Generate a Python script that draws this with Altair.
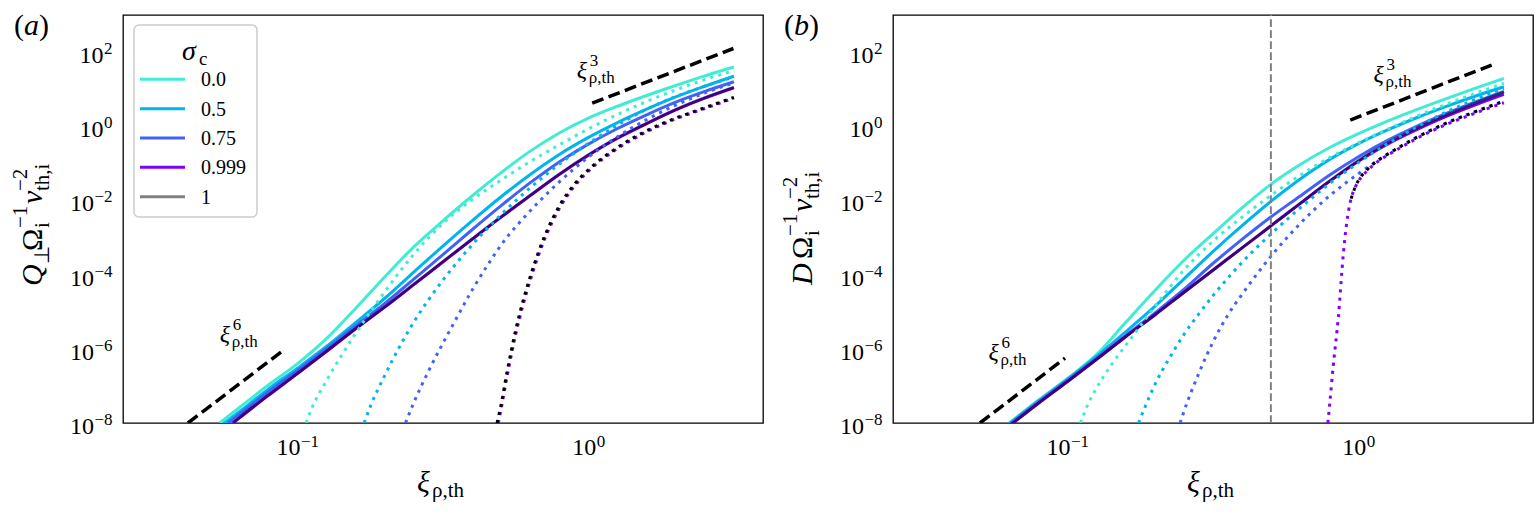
import altair as alt
import numpy as np
import pandas as pd

FONT = "Liberation Serif"

SIGMAS = ["0.0", "0.5", "0.75", "0.999", "1"]
SIGMA_COLORS = ["#40ecd4", "#00b4ec", "#4062fa", "#7f00ff", "#808080"]

XI_DOMAIN = [0.02512, 3.981]
Y_DOMAIN = [1e-8, 1e3]
W, H = 640, 408

XI_GRID = [0.063, 0.079, 0.1, 0.126, 0.158, 0.2, 0.251, 0.316, 0.398, 0.501,
           0.631, 0.794, 1.0, 1.259, 1.585, 1.995, 2.512, 3.162]

# ---------------- panel (a): heating rate, values as log10 ----------------
qa_xi_s0 = [0.054] + XI_GRID
qa_lg_s0 = [-8.0, -7.59, -6.99, -6.4, -5.72, -4.92, -4.05, -3.25, -2.55, -1.88,
            -1.25, -0.67, -0.18, 0.22, 0.54, 0.83, 1.1, 1.36, 1.6]
qa_xi_s05 = [0.0562] + XI_GRID
qa_lg_s05 = [-8.0, -7.7, -7.1, -6.52, -5.93, -5.3, -4.63, -3.93, -3.23, -2.55,
             -1.9, -1.3, -0.76, -0.3, 0.1, 0.46, 0.79, 1.08, 1.35]
qa_xi_s075 = [0.0578] + XI_GRID
qa_lg_s075 = [-8.0, -7.77, -7.17, -6.58, -5.99, -5.39, -4.77, -4.12, -3.46, -2.79,
              -2.14, -1.52, -0.96, -0.48, -0.06, 0.31, 0.65, 0.94, 1.2]
qa_xi_s0999 = [0.06] + XI_GRID
qa_lg_s0999 = [-8.0, -7.87, -7.27, -6.67, -6.07, -5.47, -4.87, -4.27, -3.66, -3.05,
               -2.45, -1.87, -1.3, -0.78, -0.32, 0.07, 0.44, 0.76, 1.04]
qa_xi_s1 = [0.06] + XI_GRID
qa_lg_s1 = [-8.0, -7.86, -7.26, -6.66, -6.06, -5.46, -4.86, -4.26, -3.65, -3.04,
            -2.44, -1.86, -1.29, -0.77, -0.31, 0.08, 0.45, 0.77, 1.05]

qa_xi_d0 = [0.107, 0.112, 0.126, 0.158, 0.2, 0.251, 0.316, 0.398, 0.501, 0.631,
            0.794, 1.0, 1.259, 1.585, 1.995, 2.512, 3.162]
qa_lg_d0 = [-8.0, -7.6, -6.85, -5.6, -4.45, -3.45, -2.62, -1.98, -1.45, -0.95,
            -0.5, -0.07, 0.32, 0.67, 0.98, 1.26, 1.5]
qa_xi_d05 = [0.1694, 0.178, 0.2, 0.224, 0.251, 0.316, 0.398, 0.501, 0.631, 0.794,
             1.0, 1.259, 1.585, 1.995, 2.512, 3.162]
qa_lg_d05 = [-8.0, -7.55, -6.7, -5.95, -5.28, -4.15, -3.2, -2.38, -1.66, -1.02,
             -0.46, 0.03, 0.46, 0.8, 1.08, 1.33]
qa_xi_d075 = [0.235, 0.251, 0.282, 0.316, 0.355, 0.398, 0.447, 0.501, 0.631, 0.794,
              1.0, 1.259, 1.585, 1.995, 2.512, 3.162]
qa_lg_d075 = [-8.0, -7.45, -6.6, -5.85, -5.12, -4.42, -3.78, -3.2, -2.28, -1.5,
              -0.83, -0.28, 0.18, 0.57, 0.9, 1.17]
qa_xi_d0999 = [0.49, 0.501, 0.525, 0.562, 0.631, 0.708, 0.794, 0.891, 1.0, 1.259,
               1.585, 1.995, 2.512, 3.162]
qa_lg_d0999 = [-8.0, -7.62, -6.75, -5.62, -4.15, -3.03, -2.22, -1.63, -1.21, -0.6,
               -0.15, 0.2, 0.48, 0.76]
qa_xi_d1 = [0.485, 0.501, 0.525, 0.562, 0.631, 0.708, 0.794, 0.891, 1.0, 1.259,
            1.585, 1.995, 2.512, 3.162]
qa_lg_d1 = [-8.0, -7.5, -6.62, -5.5, -4.05, -2.95, -2.15, -1.58, -1.17, -0.57,
            -0.12, 0.22, 0.5, 0.78]

# ---------------- panel (b): diffusion coefficient, values as log10 ----------------
db_xi_s = XI_GRID
db_lg_s0 = [-8.0, -7.4, -6.8, -6.15, -5.3, -4.42, -3.62, -2.9, -2.2, -1.56,
            -1.03, -0.58, -0.2, 0.14, 0.45, 0.74, 1.02, 1.29]
db_lg_s05 = [-8.02, -7.42, -6.82, -6.2, -5.55, -4.85, -4.12, -3.38, -2.68, -2.02,
             -1.42, -0.9, -0.47, -0.1, 0.23, 0.53, 0.81, 1.066]
db_lg_s075 = [-8.05, -7.45, -6.85, -6.25, -5.65, -5.03, -4.4, -3.7, -3.05, -2.44,
              -1.88, -1.32, -0.82, -0.38, 0.0, 0.34, 0.65, 0.94]
db_lg_s0999 = [-8.08, -7.48, -6.88, -6.28, -5.68, -5.08, -4.48, -3.88, -3.28, -2.68,
               -2.08, -1.49, -0.94, -0.48, -0.09, 0.26, 0.57, 0.86]
db_lg_s1 = [-8.08, -7.48, -6.88, -6.28, -5.68, -5.08, -4.48, -3.88, -3.28, -2.68,
            -2.08, -1.48, -0.92, -0.45, -0.05, 0.3, 0.62, 0.92]

db_xi_d0 = [0.1107, 0.1175, 0.126, 0.141, 0.158, 0.178, 0.2, 0.251, 0.316, 0.398,
            0.501, 0.631, 0.794, 1.0, 1.259, 1.585, 1.995, 2.512, 3.162]
db_lg_d0 = [-8.0, -7.5, -7.05, -6.45, -5.92, -5.38, -4.85, -3.88, -3.1, -2.45,
            -1.86, -1.32, -0.85, -0.45, -0.08, 0.27, 0.59, 0.88, 1.157]
db_xi_d05 = [0.1754, 0.1862, 0.2, 0.224, 0.251, 0.282, 0.316, 0.355, 0.398, 0.501,
             0.631, 0.794, 1.0, 1.259, 1.585, 1.995, 2.512, 3.162]
db_lg_d05 = [-8.0, -7.5, -6.95, -6.25, -5.62, -5.07, -4.57, -4.1, -3.67, -2.9,
             -2.2, -1.55, -0.98, -0.47, -0.02, 0.38, 0.72, 1.02]
db_xi_d075 = [0.2438, 0.251, 0.282, 0.316, 0.355, 0.398, 0.501, 0.631, 0.794, 1.0,
              1.259, 1.585, 1.995, 2.512, 3.162]
db_lg_d075 = [-8.0, -7.7, -6.68, -5.82, -5.1, -4.53, -3.5, -2.62, -1.88, -1.28,
              -0.76, -0.3, 0.07, 0.39, 0.67]
db_xi_d0999 = [0.785, 0.794, 0.82, 0.853, 0.887, 0.912, 0.938, 0.977, 1.0, 1.072,
               1.175, 1.259, 1.413, 1.585, 1.995, 2.512, 3.162]
db_lg_d0999 = [-8.0, -7.6, -6.42, -5.14, -3.45, -2.58, -2.03, -1.63, -1.48, -1.2,
               -0.93, -0.78, -0.55, -0.33, 0.04, 0.35, 0.634]
db_xi_d1 = [0.944, 0.977, 1.0, 1.072, 1.175, 1.259, 1.413, 1.585, 1.995, 2.512, 3.162]
db_lg_d1 = [-1.95, -1.62, -1.46, -1.17, -0.9, -0.75, -0.52, -0.3, 0.08, 0.39, 0.68]

# power-law guide segments and their labels
qa_guides = [([0.042, 0.09], [1e-8, 9.5e-7]), ([1.03, 3.15], [4.2, 125.0])]
db_guides = [([0.05, 0.098], [1e-8, 5.6e-7]), ([0.937, 2.87], [1.47, 44.8])]
qa_notes = [(0.054, 1.5e-6, "6"), (0.912, 20.0, "3")]
db_notes = [(0.0535, 4.9e-7, "6"), (1.126, 15.6, "3")]

D_THRESHOLD = 0.5

X_MAJOR = [0.1, 1.0]
X_MINOR = [0.03, 0.04, 0.05, 0.06, 0.07, 0.08, 0.09, 0.2, 0.3, 0.4, 0.5, 0.6,
           0.7, 0.8, 0.9, 2.0, 3.0]
Y_MAJOR_EXP = [2, 0, -2, -4, -6, -8]

# ---------------------------------------------------------------------------
xscale = alt.Scale(type="log", domain=XI_DOMAIN, nice=False)
yscale = alt.Scale(type="log", domain=Y_DOMAIN, nice=False)
cscale = alt.Scale(domain=SIGMAS, range=SIGMA_COLORS)
ONE = pd.DataFrame({"k": [0]})


def X(axis=None):
    return alt.X("xi:Q", scale=xscale, axis=axis)


def Y(axis=None):
    return alt.Y("val:Q", scale=yscale, axis=axis)


def C():
    return alt.Color("sigma:N", scale=cscale, legend=None)


def frame(pairs):
    parts = []
    for (xs, lg), sig in pairs:
        parts.append(pd.DataFrame({"xi": xs, "val": np.power(10.0, lg), "sigma": sig}))
    return pd.concat(parts, ignore_index=True)


def sup_text(e):
    return ("\u2212%d" % abs(e)) if e < 0 else "%d" % e


def text_piece(text, x, y, size, italic=False, angle=0, dx=0, dy=0, align="left"):
    kw = dict(text=text, align=align, baseline="alphabetic", font=FONT,
              fontSize=size, fontStyle="italic" if italic else "normal",
              color="black", dx=dx, dy=dy)
    if angle:
        kw["angle"] = angle
    return alt.Chart(ONE).mark_text(**kw).encode(x=alt.value(x), y=alt.value(y))


def panel(solids, dots, guides, notes, ytitle, tag, vline=None, legend=False):
    x_axis = alt.Axis(values=X_MAJOR + X_MINOR, labels=False, title=None, domain=False,
                      grid=False, tickColor="black", tickWidth=1.5,
                      tickSize={"condition": {"test": "datum.value == 0.1 || datum.value == 1",
                                              "value": 7}, "value": 4})
    y_axis = alt.Axis(values=[10.0 ** e for e in Y_MAJOR_EXP], labels=False, title=None,
                      domain=False, grid=False, tickColor="black", tickWidth=1.5, tickSize=7)

    line_kw = dict(strokeWidth=3, interpolate="monotone", clip=True)
    dot_kw = dict(strokeDash=[3.1, 5.1], strokeCap="butt", **line_kw)
    layers = [
        alt.Chart(frame(solids[:4])).mark_line(**line_kw)
        .encode(x=X(x_axis), y=Y(y_axis), color=C()),
        # sigma_c = 1 is half-transparent black laid over the others
        alt.Chart(frame(solids[4:])).mark_line(color="black", opacity=0.5, **line_kw)
        .encode(x=X(), y=Y()),
        alt.Chart(frame(dots[:4])).mark_line(**dot_kw).encode(x=X(), y=Y(), color=C()),
        alt.Chart(frame(dots[4:])).mark_line(color="black", **dot_kw).encode(x=X(), y=Y()),
    ]

    gdf = pd.concat([pd.DataFrame({"xi": g[0], "val": g[1], "seg": i})
                     for i, g in enumerate(guides)], ignore_index=True)
    layers.append(alt.Chart(gdf).mark_line(color="black", strokeWidth=3.5,
                                           strokeDash=[12, 5.5], clip=True)
                  .encode(x=X(), y=Y(), detail="seg:N"))

    if vline is not None:
        vdf = pd.DataFrame({"xi": [vline], "val": [Y_DOMAIN[0]], "val2": [Y_DOMAIN[1]]})
        layers.append(alt.Chart(vdf).mark_rule(color="#808080", strokeWidth=2,
                                               strokeDash=[7.7, 3.3])
                      .encode(x=X(), y=Y(), y2="val2:Q"))

    ndf = pd.DataFrame({"xi": [n[0] for n in notes], "val": [n[1] for n in notes],
                        "p": [n[2] for n in notes]})
    base_kw = dict(align="left", baseline="alphabetic", font=FONT, color="black")
    layers.append(alt.Chart(ndf).mark_text(text="\u03be", fontSize=24, fontStyle="italic", **base_kw)
                  .encode(x=X(), y=Y()))
    layers.append(alt.Chart(ndf).mark_text(fontSize=17, dx=13, dy=-12, **base_kw)
                  .encode(x=X(), y=Y(), text="p:N"))
    layers.append(alt.Chart(ndf).mark_text(text="\u03c1,th", fontSize=17, dx=12, dy=5, **base_kw)
                  .encode(x=X(), y=Y()))

    # tick labels: "10" with a raised exponent
    for neg in (False, True):
        exps = [e for e in Y_MAJOR_EXP if (e < 0) == neg]
        tdf = pd.DataFrame({"val": [10.0 ** e for e in exps], "p": [sup_text(e) for e in exps]})
        right = -29 if neg else -19.5
        layers.append(alt.Chart(tdf).mark_text(text="10", align="right", baseline="alphabetic",
                                               font=FONT, fontSize=24, dy=11, color="black")
                      .encode(x=alt.value(right), y=Y()))
        layers.append(alt.Chart(tdf).mark_text(align="left", baseline="alphabetic", font=FONT,
                                               fontSize=17, dy=2, color="black")
                      .encode(x=alt.value(right + 0.5), y=Y(), text="p:N"))
    for v in X_MAJOR:
        e = int(round(np.log10(v)))
        xdf = pd.DataFrame({"xi": [v], "p": [sup_text(e)]})
        ew = 18.1 if e < 0 else 8.5
        shift = -(24 + ew) / 2 + 24
        layers.append(alt.Chart(xdf).mark_text(text="10", align="right", baseline="alphabetic",
                                               font=FONT, fontSize=24, dx=shift, color="black")
                      .encode(x=X(), y=alt.value(H + 32.3)))
        layers.append(alt.Chart(xdf).mark_text(align="left", baseline="alphabetic", font=FONT,
                                               fontSize=17, dx=shift + 0.5, color="black")
                      .encode(x=X(), y=alt.value(H + 24), text="p:N"))

    # axis titles
    layers.append(text_piece("\u03be", 294, H + 69, 30, italic=True))
    layers.append(text_piece("\u03c1,th", 309, H + 74, 21))
    yx, yy = -80.7, ytitle["start"]
    for txt, dx, dy, size, it in ytitle["pieces"]:
        layers.append(text_piece(txt, yx, yy, size, italic=it, angle=270, dx=dx, dy=dy))

    # panel tag
    layers.append(text_piece("(", -109, 20, 30))
    layers.append(text_piece(tag, -99, 20, 30, italic=True))
    layers.append(text_piece(")", -84, 20, 30))

    main = alt.layer(*layers)
    if not legend:
        return main.properties(width=W, height=H)

    ldf = pd.DataFrame({"sigma": SIGMAS})
    ly = alt.Y("sigma:N", sort=SIGMAS, axis=None,
               scale=alt.Scale(type="point", range=[64.3, 181.7], padding=0))
    box = alt.Chart(ONE).mark_rect(cornerRadius=5, fill="white", fillOpacity=0.8,
                                   stroke="#cccccc", strokeWidth=1.5).encode(
        x=alt.value(11), x2=alt.value(134), y=alt.value(10), y2=alt.value(202))
    swatch = alt.Chart(ldf).mark_rule(strokeWidth=3).encode(
        x=alt.value(17), x2=alt.value(62), y=ly, color=C())
    labels = alt.Chart(ldf).mark_text(align="left", baseline="middle", font=FONT, fontSize=20,
                                      dy=1, color="black").encode(
        x=alt.value(78), y=ly, text="sigma:N")
    ltitle = alt.layer(text_piece("\u03c3", 59, 45, 28, italic=True),
                       text_piece("c", 76, 50, 19))
    leg = alt.layer(box, swatch, labels, ltitle)
    return alt.layer(main, leg).resolve_scale(y="independent").properties(width=W, height=H)


ytitle_a = {"start": 271, "pieces": [
    ("Q", 0, 0, 30, True), ("\u22a5", 22, 7, 21, False), ("\u03a9", 35, 0, 30, False),
    ("i", 58, 7, 21, False), ("\u22121", 58, -15, 21, False), ("v", 82, 0, 30, True),
    ("th,i", 95, 7, 21, False), ("\u22122", 95, -15, 21, False)]}
ytitle_b = {"start": 270, "pieces": [
    ("D", 0, 0, 30, True), ("\u03a9", 26, 0, 30, False),
    ("i", 49, 7, 21, False), ("\u22121", 49, -15, 21, False), ("v", 73, 0, 30, True),
    ("th,i", 86, 7, 21, False), ("\u22122", 86, -15, 21, False)]}

sol_a = [((qa_xi_s0, qa_lg_s0), "0.0"), ((qa_xi_s05, qa_lg_s05), "0.5"),
         ((qa_xi_s075, qa_lg_s075), "0.75"), ((qa_xi_s0999, qa_lg_s0999), "0.999"),
         ((qa_xi_s1, qa_lg_s1), "1")]
dot_a = [((qa_xi_d0, qa_lg_d0), "0.0"), ((qa_xi_d05, qa_lg_d05), "0.5"),
         ((qa_xi_d075, qa_lg_d075), "0.75"), ((qa_xi_d0999, qa_lg_d0999), "0.999"),
         ((qa_xi_d1, qa_lg_d1), "1")]
sol_b = [((db_xi_s, db_lg_s0), "0.0"), ((db_xi_s, db_lg_s05), "0.5"),
         ((db_xi_s, db_lg_s075), "0.75"), ((db_xi_s, db_lg_s0999), "0.999"),
         ((db_xi_s, db_lg_s1), "1")]
dot_b = [((db_xi_d0, db_lg_d0), "0.0"), ((db_xi_d05, db_lg_d05), "0.5"),
         ((db_xi_d075, db_lg_d075), "0.75"), ((db_xi_d0999, db_lg_d0999), "0.999"),
         ((db_xi_d1, db_lg_d1), "1")]

panel_a = panel(sol_a, dot_a, qa_guides, qa_notes, ytitle_a, "a", legend=True)
panel_b = panel(sol_b, dot_b, db_guides, db_notes, ytitle_b, "b", vline=D_THRESHOLD)

chart = (alt.hconcat(panel_a, panel_b, spacing=15)
         .properties(padding={"left": 9, "top": 10, "right": 0, "bottom": 0}, background="white")
         .configure_view(stroke="black", strokeWidth=1.3)
         .configure_axis(domain=False))

chart.save("out.html", embed_options={"renderer": "svg", "actions": False})
